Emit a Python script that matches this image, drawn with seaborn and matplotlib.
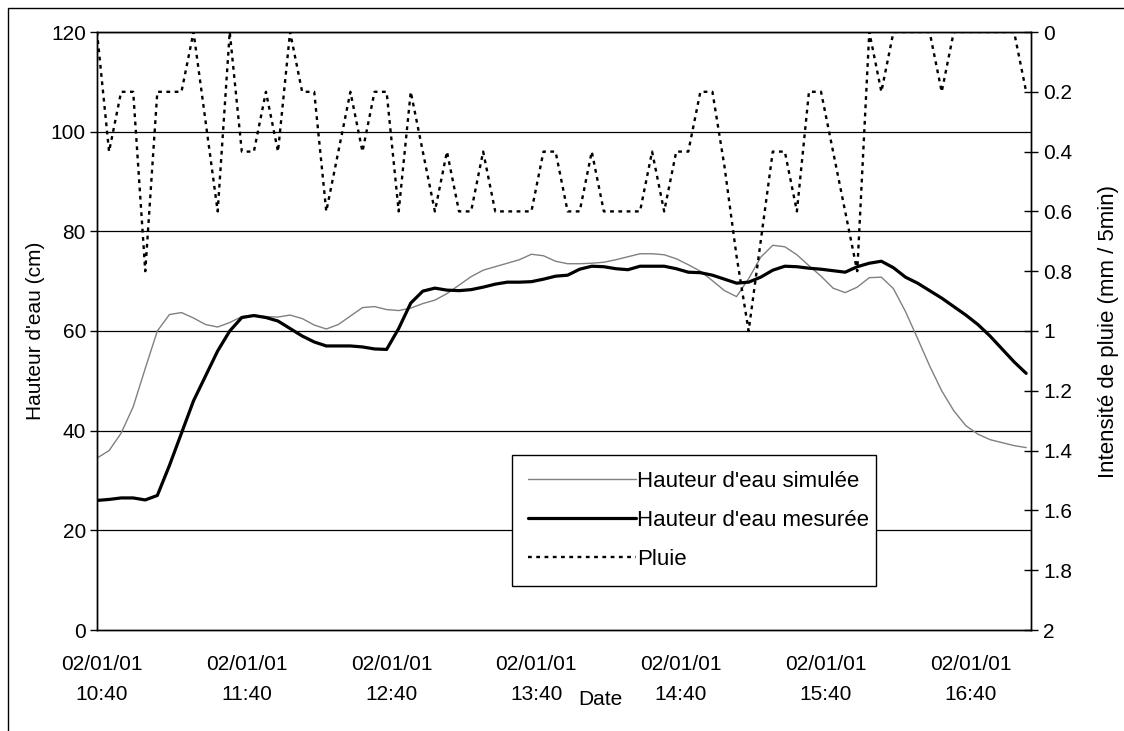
import numpy as np
import pandas as pd
import matplotlib
matplotlib.use("Agg")
import matplotlib.pyplot as plt
import matplotlib.dates as mdates
from matplotlib.patches import Rectangle
from matplotlib.ticker import FuncFormatter
import seaborn as sns

# Rainfall intensity, one value every 5 minutes (mm / 5min)
pluie = [0, 0.4, 0.2, 0.2, 0.8, 0.2, 0.2, 0.2, 0, 0.3,
         0.6, 0, 0.4, 0.4, 0.2, 0.4, 0, 0.2, 0.2, 0.6,
         0.4, 0.2, 0.4, 0.2, 0.2, 0.6, 0.2, 0.4, 0.6, 0.4,
         0.6, 0.6, 0.4, 0.6, 0.6, 0.6, 0.6, 0.4, 0.4, 0.6,
         0.6, 0.4, 0.6, 0.6, 0.6, 0.6, 0.4, 0.6, 0.4, 0.4,
         0.2, 0.2, 0.45, 0.75, 1.0, 0.7, 0.4, 0.4, 0.6, 0.2,
         0.2, 0.4, 0.6, 0.8, 0, 0.2, 0, 0, 0, 0,
         0.2, 0, 0, 0, 0, 0, 0, 0.2]

# Measured water level (cm)
hauteur_mesuree = [26, 26.2, 26.5, 26.5, 26.1, 27, 33, 39.5, 46, 51,
                   56, 60, 62.7, 63.1, 62.7, 62, 60.5, 59, 57.8, 57,
                   57, 57, 56.8, 56.4, 56.3, 60.5, 65.6, 68, 68.6, 68.2,
                   68.1, 68.3, 68.8, 69.4, 69.8, 69.8, 69.9, 70.4, 71, 71.2,
                   72.4, 73, 72.9, 72.5, 72.3, 73, 73, 73, 72.5, 71.8,
                   71.7, 71.2, 70.4, 69.6, 69.8, 70.8, 72.2, 73, 72.9, 72.6,
                   72.4, 72.1, 71.8, 72.9, 73.6, 74, 72.7, 70.8, 69.6, 68.1,
                   66.6, 64.9, 63.2, 61.3, 59, 56.4, 53.8, 51.5]

# Simulated water level (cm)
hauteur_simulee = [34.5, 36, 39.5, 44.8, 52.5, 60, 63.3, 63.7, 62.6, 61.3,
                   60.8, 61.7, 62.9, 63.2, 62.9, 62.8, 63.2, 62.5, 61.2, 60.4,
                   61.3, 63, 64.7, 64.9, 64.3, 64.1, 64.6, 65.5, 66.2, 67.5,
                   69.2, 70.9, 72.2, 72.9, 73.6, 74.3, 75.4, 75.1, 74, 73.5,
                   73.5, 73.6, 73.8, 74.3, 74.9, 75.5, 75.5, 75.3, 74.5, 73.3,
                   72, 70.1, 68.1, 66.9, 70.5, 74.8, 77.2, 76.9, 75.3, 73.1,
                   71, 68.6, 67.7, 68.8, 70.7, 70.8, 68.5, 63.9, 58.5, 53,
                   48, 44, 41, 39.3, 38.2, 37.6, 37, 36.6]

debut = "2001-01-02 10:38"
pas = "5min"
ticks_dates = ["2001-01-02 10:40", "2001-01-02 11:40", "2001-01-02 12:40",
               "2001-01-02 13:40", "2001-01-02 14:40", "2001-01-02 15:40",
               "2001-01-02 16:40"]
ticks_hauteur = [0, 20, 40, 60, 80, 100, 120]
ticks_pluie = [0, 0.2, 0.4, 0.6, 0.8, 1.0, 1.2, 1.4, 1.6, 1.8, 2.0]

temps = pd.date_range(debut, periods=len(pluie), freq=pas)
df = pd.DataFrame({
    "Date": temps,
    "Pluie": pluie,
    "Mesuree": hauteur_mesuree,
    "Simulee": hauteur_simulee,
})

sns.set_theme(style="white")
plt.rcParams["font.family"] = ["Liberation Sans", "DejaVu Sans"]
plt.rcParams["text.color"] = "black"
plt.rcParams["axes.labelcolor"] = "black"
plt.rcParams["xtick.color"] = "black"
plt.rcParams["ytick.color"] = "black"

FS_TICK = 15
FS_LEG = 16
W, H = 1124, 731
fig = plt.figure(figsize=(W / 100, H / 100), dpi=100)
fig.patch.set_facecolor("white")

L, R, T, B = 97, 1031, 32, 630
ax = fig.add_axes([L / W, 1 - B / H, (R - L) / W, (B - T) / H])
ax2 = ax.twinx()

sns.lineplot(data=df, x="Date", y="Simulee", ax=ax, color="#808080", lw=1.0,
             label="Hauteur d'eau simulée", legend=False)
sns.lineplot(data=df, x="Date", y="Mesuree", ax=ax, color="black", lw=2.3,
             label="Hauteur d'eau mesurée", legend=False)
sns.lineplot(data=df, x="Date", y="Pluie", ax=ax2, color="black", lw=1.7,
             linestyle=(0, (1.6, 1.9)), label="Pluie", legend=False)

# Left axis: water level
ax.set_ylim(0, 120)
ax.set_yticks(ticks_hauteur)
ax.grid(False)
for v in ticks_hauteur[1:]:
    ax.axhline(v, color="black", lw=0.9, zorder=0)
ax.set_ylabel("Hauteur d'eau (cm)", fontsize=15)
ax.yaxis.set_label_coords((45 - L) / (R - L), 0.5)

# Right axis: rainfall intensity, reversed
ax2.set_ylim(2, 0)
ax2.set_yticks(ticks_pluie)
ax2.yaxis.set_major_formatter(FuncFormatter(lambda v, p: f"{v:g}"))
ax2.set_ylabel("Intensité de pluie (mm / 5min)", fontsize=16)
ax2.yaxis.set_label_coords((1098 - L) / (R - L), 0.5)
ax2.grid(False)

# Time axis
ax.set_xlim(temps[0], temps[0] + pd.Timedelta(minutes=387))
ax.set_xticks(pd.to_datetime(ticks_dates))
ax.xaxis.set_major_formatter(mdates.DateFormatter("%d/%m/%y\n%H:%M"))
ax.set_xlabel("Date", fontsize=FS_TICK)
ax.xaxis.set_label_coords((600 - L) / (R - L), -(690 - B) / (B - T))

ax.tick_params(axis="x", direction="out", length=6, width=1, labelsize=FS_TICK, pad=12)
ax.tick_params(axis="y", direction="out", length=5, width=1, labelsize=FS_TICK, pad=3, left=True)
ax2.tick_params(axis="y", direction="inout", length=10, width=1, labelsize=FS_TICK, pad=4, right=True)
for lab in ax.get_xticklabels():
    lab.set_linespacing(1.7)

for a in (ax, ax2):
    for s in a.spines.values():
        s.set_color("black")
        s.set_linewidth(1.0)

# Legend box
h1, l1 = ax.get_legend_handles_labels()
h2, l2 = ax2.get_legend_handles_labels()
leg = ax2.legend(h1 + h2, l1 + l2, loc="upper left",
                 bbox_to_anchor=((512 - L) / (R - L), (B - 588) / (B - T),
                                 (876 - 512) / (R - L), (588 - 455) / (B - T)),
                 mode="expand", borderaxespad=0, frameon=True, fancybox=False,
                 framealpha=1, edgecolor="black", fontsize=FS_LEG,
                 handlelength=4.85, handletextpad=0.05, labelspacing=0.8,
                 borderpad=0.72)
leg.get_frame().set_linewidth(1.0)

# Chart area border
fig.patches.append(Rectangle((8 / W, -0.01), 1.2, 1 - 8 / H + 0.01,
                             transform=fig.transFigure, fill=False,
                             edgecolor="black", lw=1.0))

fig.savefig("out.png", dpi=100)
